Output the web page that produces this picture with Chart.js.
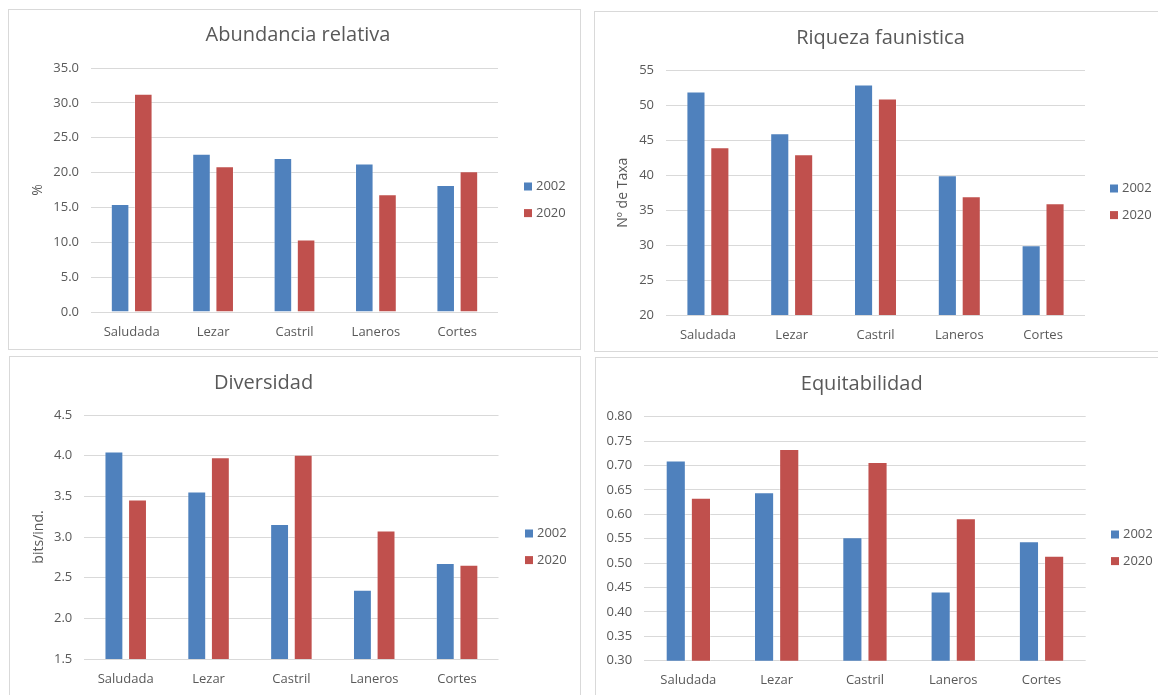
<!DOCTYPE html>
<html lang="es">
<head>
<meta charset="utf-8">
<title>Indicadores faunísticos 2002–2020</title>
<script src="https://cdn.jsdelivr.net/npm/chart.js@4.4.1/dist/chart.umd.min.js"></script>
<style>
  html, body { margin: 0; padding: 0; background: #ffffff; }
  body { width: 1158px; height: 695px; overflow: hidden; position: relative; }
  .panel { position: absolute; border: 1px solid #d9d9d9; background: #ffffff; }
  .panel canvas { display: block; }
</style>
</head>
<body>
<div class="panel" id="p1"><canvas id="c1"></canvas></div>
<div class="panel" id="p2"><canvas id="c2"></canvas></div>
<div class="panel" id="p3"><canvas id="c3"></canvas></div>
<div class="panel" id="p4"><canvas id="c4"></canvas></div>
<script>
// ---- Data ----
const sites = ['Saludada', 'Lezar', 'Castril', 'Laneros', 'Cortes'];
const years = ['2002', '2020'];

const abundancia2002 = [15.5, 22.7, 22.1, 21.3, 18.2];
const abundancia2020 = [31.3, 20.9, 10.4, 16.9, 20.2];

const riqueza2002 = [52, 46, 53, 40, 30];
const riqueza2020 = [44, 43, 51, 37, 36];

const diversidad2002 = [4.05, 3.56, 3.16, 2.35, 2.68];
const diversidad2020 = [3.46, 3.98, 4.01, 3.08, 2.66];

const equitabilidad2002 = [0.710, 0.645, 0.553, 0.442, 0.545];
const equitabilidad2020 = [0.634, 0.734, 0.707, 0.592, 0.515];

// y axis: [min, max, step, decimals]
const abundanciaTicks = [0, 35, 5, 1];
const riquezaTicks = [20, 55, 5, 0];
const diversidadTicks = [1.5, 4.5, 0.5, 1];
const equitabilidadTicks = [0.30, 0.80, 0.05, 2];

// ---- Styling ----
const FONT = "'Open Sans', 'Noto Sans', sans-serif";
const TEXT = '#595959';
const GRID = '#d9d9d9';
const BLUE = '#4f81bd';
const RED = '#c0504d';
const EDGE = 'rgba(255,255,255,0.3)';

Chart.defaults.font.family = FONT;
Chart.defaults.color = TEXT;

// Legend drawn to the right of the plot: square swatch + year label
const swatchLegend = {
  id: 'swatchLegend',
  afterDraw(chart, args, opts) {
    const ctx = chart.ctx;
    ctx.save();
    ctx.font = opts.size + 'px ' + FONT;
    ctx.textBaseline = 'middle';
    ctx.textAlign = 'left';
    chart.data.datasets.forEach((ds, i) => {
      const y = opts.y + i * opts.gap;
      ctx.fillStyle = ds.backgroundColor;
      ctx.fillRect(opts.x, y - opts.box / 2, opts.box, opts.box);
      ctx.fillStyle = TEXT;
      ctx.fillText(ds.label, opts.x + opts.box + opts.space, y);
    });
    ctx.restore();
  }
};

function makeChart(cfg) {
  const panel = document.getElementById(cfg.panel);
  const canvas = document.getElementById(cfg.canvas);
  const b = cfg.box;
  panel.style.left = (b.left - 1) + 'px';
  panel.style.top = (b.top - 1) + 'px';
  panel.style.width = b.w + 'px';
  panel.style.height = b.h + 'px';
  canvas.width = b.w;
  canvas.height = b.h;
  canvas.style.width = b.w + 'px';
  canvas.style.height = b.h + 'px';

  const a = cfg.area;
  // title centred at titleX: shift the full-width title box with side padding
  let padL = 0, padR = 0;
  if (cfg.titleX * 2 > b.w) padL = cfg.titleX * 2 - b.w; else padR = b.w - cfg.titleX * 2;

  const titleSize = 20, titleLH = titleSize * 1.2;
  const axisTitleSize = 14, axisTitleLH = axisTitleSize * 1.2;
  const [tMin, tMax, tStep, tDec] = cfg.ticks;

  return new Chart(canvas, {
    type: 'bar',
    data: {
      labels: sites,
      datasets: [
        { label: years[0], data: cfg.series[0], backgroundColor: BLUE,
          borderColor: EDGE, borderWidth: 1 },
        { label: years[1], data: cfg.series[1], backgroundColor: RED,
          borderColor: EDGE, borderWidth: 1 }
      ]
    },
    options: {
      responsive: false,
      animation: false,
      devicePixelRatio: 1,
      layout: { padding: { left: padL, right: padR, top: 0, bottom: 0 } },
      datasets: { bar: { barPercentage: 0.8, categoryPercentage: 0.57 } },
      plugins: {
        legend: { display: false },
        tooltip: { enabled: false },
        title: {
          display: true,
          text: cfg.title,
          color: TEXT,
          font: { size: titleSize, weight: 'normal', family: FONT },
          padding: { top: cfg.titleY - titleLH / 2, bottom: a.top - cfg.titleY - titleLH / 2 }
        },
        swatchLegend: { x: 515, y: 176.5, gap: 26.6, box: 8, space: 4, size: 13 }
      },
      scales: {
        x: {
          grid: { display: false, drawTicks: false },
          border: { display: false },
          ticks: { color: TEXT, font: { size: 13 }, padding: 12, maxRotation: 0 },
          afterFit(s) { s.height = b.h - a.bottom; }
        },
        y: {
          min: tMin, max: tMax,
          grid: { color: GRID, lineWidth: 1, drawTicks: false },
          border: { display: false },
          ticks: {
            stepSize: tStep, color: TEXT, font: { size: 13 }, padding: 12,
            callback: v => Number(v).toFixed(tDec)
          },
          title: {
            display: !!cfg.yTitle,
            text: cfg.yTitle || '',
            color: TEXT,
            font: { size: axisTitleSize, weight: 'normal' },
            padding: { top: (cfg.yTitleX || 0) - padL - axisTitleLH / 2, bottom: 0 }
          },
          afterFit(s) { s.width = a.left - padL; }
        },
        legendSpace: {
          type: 'linear',
          position: 'right',
          display: true,
          grid: { display: false, drawTicks: false },
          border: { display: false },
          ticks: { display: false },
          afterFit(s) { s.width = b.w - padR - a.right; }
        }
      }
    },
    plugins: [swatchLegend]
  });
}

makeChart({
  panel: 'p1', canvas: 'c1',
  box: { left: 9, top: 10, w: 571, h: 339 },
  area: { left: 82, right: 489, top: 58, bottom: 302 },
  title: 'Abundancia relativa', titleX: 289, titleY: 25.5,
  yTitle: '%', yTitleX: 29.5,
  ticks: abundanciaTicks,
  series: [abundancia2002, abundancia2020]
});

makeChart({
  panel: 'p2', canvas: 'c2',
  box: { left: 595, top: 12, w: 571, h: 339 },
  area: { left: 71, right: 490, top: 58.5, bottom: 303 },
  title: 'Riqueza faunistica', titleX: 285.5, titleY: 26.3,
  yTitle: 'Nº de Taxa', yTitleX: 28.4,
  ticks: riquezaTicks,
  series: [riqueza2002, riqueza2020]
});

makeChart({
  panel: 'p3', canvas: 'c3',
  box: { left: 10, top: 357, w: 570, h: 343 },
  area: { left: 74.3, right: 488.5, top: 58, bottom: 302 },
  title: 'Diversidad', titleX: 253.6, titleY: 26.3,
  yTitle: 'bits/ind.', yTitleX: 29.2,
  ticks: diversidadTicks,
  series: [diversidad2002, diversidad2020]
});

makeChart({
  panel: 'p4', canvas: 'c4',
  box: { left: 596, top: 358, w: 571, h: 343 },
  area: { left: 48.2, right: 489.7, top: 58.7, bottom: 302.7 },
  title: 'Equitabilidad', titleX: 265.7, titleY: 26.5,
  yTitle: '', yTitleX: 0,
  ticks: equitabilidadTicks,
  series: [equitabilidad2002, equitabilidad2020]
});
</script>
</body>
</html>
